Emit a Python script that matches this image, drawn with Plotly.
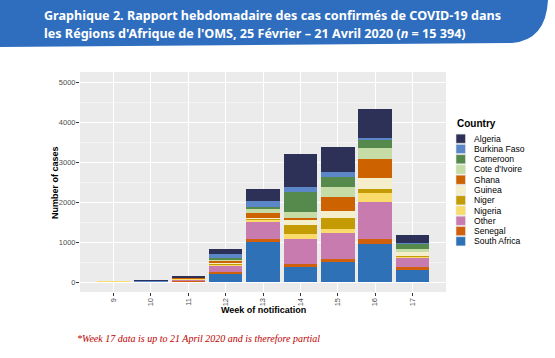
import plotly.graph_objects as go

# ---------------- data ----------------
weeks = [9, 10, 11, 12, 13, 14, 15, 16, 17]
week_labels = ["9", "10", "11", "12", "13", "14", "15", "16", "17"]

algeria       = [0, 15, 30, 140, 300, 817, 608, 717, 180]
burkina_faso  = [0, 3, 10, 83, 150, 133, 142, 67, 20]
cameroon      = [0, 2, 5, 42, 50, 500, 233, 183, 142]
cote_divoire  = [0, 0, 5, 50, 100, 133, 250, 275, 67]
ghana         = [0, 0, 10, 25, 125, 58, 350, 475, 0]
guinea        = [0, 0, 3, 17, 25, 125, 175, 283, 108]
niger         = [0, 0, 0, 25, 20, 217, 292, 108, 10]
nigeria       = [3, 1, 20, 25, 70, 125, 92, 217, 33]
other         = [0, 8, 35, 170, 410, 625, 650, 933, 240]
senegal       = [0, 2, 15, 42, 83, 92, 67, 108, 67]
south_africa  = [0, 10, 17, 210, 1000, 367, 510, 958, 300]

countries = ["Algeria", "Burkina Faso", "Cameroon", "Cote d'Ivoire", "Ghana",
             "Guinea", "Niger", "Nigeria", "Other", "Senegal", "South Africa"]
series = [algeria, burkina_faso, cameroon, cote_divoire, ghana, guinea,
          niger, nigeria, other, senegal, south_africa]
y_ticks = [0, 1000, 2000, 3000, 4000, 5000]

# ---------------- styles ----------------
colors = {
    "Algeria": "#2E3157",
    "Burkina Faso": "#5B86C8",
    "Cameroon": "#568A4D",
    "Cote d'Ivoire": "#C6DCA6",
    "Ghana": "#CC6300",
    "Guinea": "#F4EECB",
    "Niger": "#C49B02",
    "Nigeria": "#FADC6C",
    "Other": "#C87BAE",
    "Senegal": "#D0600B",
    "South Africa": "#2E71B7",
}

W, H = 555, 358


def px(x):
    return x / W


def py(y):
    return 1 - y / H


fig = go.Figure()
# ggplot stacks the last factor level at the bottom
for name, vals in reversed(list(zip(countries, series))):
    fig.add_trace(go.Bar(
        x=weeks, y=vals, name=name, width=0.9,
        marker=dict(color=colors[name], line=dict(width=0)),
        showlegend=False,
    ))

shapes = []
annotations = []

# title banner
banner = (f"M 0,{py(0)} L {px(548)},{py(0)} "
          f"Q {px(546)},{py(40)} {px(512)},{py(43)} "
          f"L 0,{py(47)} Z")
shapes.append(dict(type="path", path=banner, xref="paper", yref="paper",
                   fillcolor="#2F6EBE", line=dict(width=0), layer="below"))

title_font = dict(family="Noto Sans", size=12.6, color="white")
annotations.append(dict(
    text="<b>Graphique 2. Rapport hebdomadaire des cas confirmés de COVID-19 dans</b>",
    x=px(42), y=py(16), xref="paper", yref="paper", xanchor="left", yanchor="middle",
    showarrow=False, font=title_font))
annotations.append(dict(
    text="<b>les Régions d'Afrique de l'OMS, 25 Février – 21 Avril 2020 (<i>n</i> = 15 394)</b>",
    x=px(42), y=py(34), xref="paper", yref="paper", xanchor="left", yanchor="middle",
    showarrow=False, font=title_font))

# axis titles
annotations.append(dict(
    text="<b>Number of cases</b>", x=px(55), y=py(183), xref="paper", yref="paper",
    xanchor="center", yanchor="middle", textangle=-90, showarrow=False,
    font=dict(family="Liberation Sans", size=9, color="black")))
annotations.append(dict(
    text="<b>Week of notification</b>", x=px(263), y=py(310), xref="paper", yref="paper",
    xanchor="center", yanchor="middle", showarrow=False,
    font=dict(family="Liberation Sans", size=9, color="black")))

# legend
annotations.append(dict(
    text="<b>Country</b>", x=px(455), y=py(124), xref="paper", yref="paper",
    xanchor="left", yanchor="middle", showarrow=False,
    font=dict(family="Liberation Sans", size=10, color="black")))
for i, name in enumerate(countries):
    cy = 138.7 + i * 10.26
    shapes.append(dict(type="rect", xref="paper", yref="paper",
                       x0=px(456), x1=px(465.5), y0=py(cy - 4.6), y1=py(cy + 4.6),
                       fillcolor=colors[name], line=dict(color="#E6E6E6", width=0.6)))
    annotations.append(dict(
        text=name, x=px(471.5), y=py(cy), xref="paper", yref="paper",
        xanchor="left", yanchor="middle", showarrow=False,
        font=dict(family="Liberation Sans", size=8.6, color="black")))

# footnote
annotations.append(dict(
    text="<i>*Week 17 data is up to 21 April 2020 and is therefore partial</i>",
    x=px(75), y=py(338), xref="paper", yref="paper", xanchor="left", yanchor="middle",
    showarrow=False, font=dict(family="Liberation Serif", size=10, color="#C00000")))

fig.update_layout(
    width=W, height=H, autosize=False,
    margin=dict(l=0, r=0, t=0, b=0),
    paper_bgcolor="white", plot_bgcolor="#EBEBEB",
    barmode="stack", bargap=0,
    showlegend=False,
    shapes=shapes, annotations=annotations,
    xaxis=dict(
        domain=[px(80), px(446)], range=[8.1, 17.9],
        tickvals=weeks, ticktext=week_labels, tickangle=-90,
        ticks="outside", ticklen=3, tickwidth=0.8, tickcolor="#333333",
        ticklabelstandoff=-1,
        tickfont=dict(family="Liberation Sans", size=7.5, color="#4D4D4D"),
        showgrid=True, gridcolor="white", gridwidth=1, zeroline=False,
        showline=False, fixedrange=True,
    ),
    yaxis=dict(
        domain=[py(292), py(72)], range=[-250, 5250],
        tickvals=y_ticks,
        ticks="outside", ticklen=3, tickwidth=0.8, tickcolor="#333333",
        ticklabelstandoff=-1,
        tickfont=dict(family="Liberation Sans", size=7.5, color="#4D4D4D"),
        showgrid=True, gridcolor="white", gridwidth=1, zeroline=False,
        minor=dict(dtick=500, tick0=0, showgrid=True, gridcolor="#F3F3F3",
                   gridwidth=0.5, ticks=""),
        showline=False, fixedrange=True,
    ),
)

fig.write_html("out.html",
               config={"displayModeBar": False},
               post_script="document.body.style.margin='0';document.body.style.padding='0';")
